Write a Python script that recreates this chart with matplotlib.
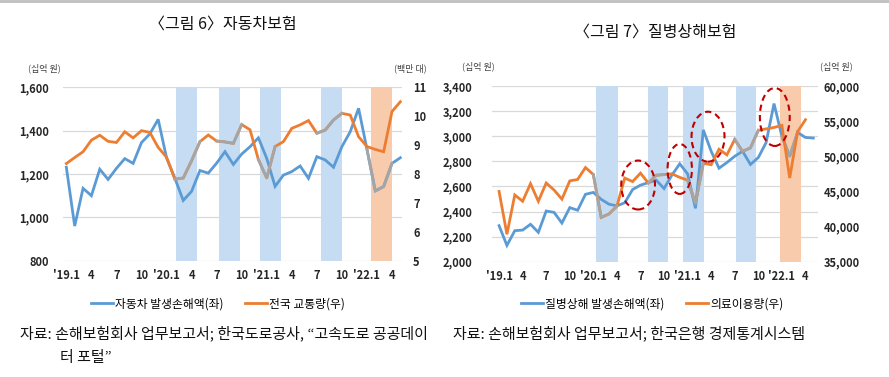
import numpy as np
import matplotlib
matplotlib.use("Agg")
import matplotlib.pyplot as plt
from matplotlib.lines import Line2D
from matplotlib.patches import Ellipse

plt.rcParams['font.family'] = ['Noto Sans CJK KR', 'DejaVu Sans']

# months '19.1 ~ '22.5
tick_pos = list(range(0, 40, 3))
tick_labels = ["'19.1", "4", "7", "10", "'20.1", "4", "7", "10",
               "'21.1", "4", "7", "10", "'22.1", "4"]

# 그림 6: 자동차보험
car_loss = [1231, 960, 1134, 1100, 1222, 1175, 1226, 1271, 1249, 1345, 1385, 1452,
            1275, 1180, 1078, 1120, 1216, 1204, 1250, 1303, 1244, 1292, 1326, 1367,
            1272, 1143, 1195, 1211, 1237, 1180, 1280, 1265, 1231, 1326, 1395, 1503,
            1315, 1122, 1142, 1249, 1275]
traffic = [8.36, 8.57, 8.77, 9.17, 9.34, 9.13, 9.09, 9.46, 9.25, 9.50, 9.44, 8.92,
           8.58, 7.82, 7.86, 8.46, 9.12, 9.35, 9.14, 9.11, 9.06, 9.71, 9.53, 8.50,
           7.86, 8.95, 9.12, 9.58, 9.70, 9.85, 9.41, 9.52, 9.87, 10.10, 10.04, 9.29,
           8.95, 8.85, 8.77, 10.16, 10.50]
car_blue_bands = [(13.1, 15.7), (18.3, 20.8), (23.2, 25.7), (30.5, 33.0)]
car_orange_band = (36.5, 39.0)
car_gray_orange = [(13, 16), (18, 21), (23, 25), (30, 33)]
car_gray_blue = [(36, 39)]

# 그림 7: 질병상해보험
ill_loss = [2287, 2130, 2247, 2252, 2298, 2234, 2404, 2393, 2308, 2431, 2410, 2537,
            2552, 2497, 2458, 2445, 2470, 2575, 2610, 2630, 2650, 2583, 2690, 2780,
            2700, 2425, 3050, 2880, 2745, 2790, 2840, 2880, 2775, 2830, 2950, 3260,
            3000, 2840, 3030, 2990, 2985]
medical = [45000, 38900, 44500, 43600, 46100, 43600, 46200, 45200, 43900, 46500,
           46700, 48400, 47400, 41300, 41800, 42900, 46900, 46400, 47600, 46200,
           47300, 47400, 47500, 47000, 46600, 43300, 49000, 48800, 51000, 50200,
           52400, 50700, 51200, 53700, 53900, 54100, 54400, 46900, 53500, 55200]
ill_blue_bands = [(12.4, 15.1), (18.9, 21.5), (23.4, 26.1), (30.1, 32.7)]
ill_orange_band = (35.75, 38.4)
ill_gray_orange = [(12, 15), (19, 21), (24, 26), (30, 33)]
ill_gray_blue = [(36, 38)]
# (month, value, width, height) of the dashed circles
circles = [(17.7, 2611, 4.3, 390), (23.0, 2739, 3.1, 398),
           (26.6, 2996, 4.2, 398), (35.1, 3153, 3.8, 462)]

BLUE = '#5B9BD5'
ORANGE = '#ED7D31'
GRAY = '#A5A5A5'
BAND_B = '#C5DCF2'
BAND_O = '#F8CBAD'
TXT = '#262626'


def setup(ax, axr, yl, yr, ylt, yrt, xlim, lpad, rpad):
    ax.set_xlim(*xlim)
    ax.set_ylim(*yl)
    axr.set_ylim(*yr)
    ax.set_yticks(ylt)
    ax.set_yticklabels([f'{v:,}' for v in ylt])
    axr.set_yticks(yrt)
    axr.set_yticklabels([f'{v:,}' for v in yrt])
    ax.set_xticks(tick_pos)
    ax.set_xticklabels(tick_labels)
    ax.grid(axis='y', color='#D9D9D9', lw=0.9)
    ax.set_axisbelow(True)
    for a in (ax, axr):
        for s in a.spines.values():
            s.set_visible(False)
        for lab in a.get_xticklabels() + a.get_yticklabels():
            lab.set_fontweight('bold')
            lab.set_color(TXT)
    ax.tick_params(axis='y', length=0, pad=lpad, labelsize=8)
    ax.tick_params(axis='x', length=0, pad=6, labelsize=8)
    axr.tick_params(axis='y', length=0, pad=rpad, labelsize=8)


def draw(ax, axr, left, right, bands, oband, g_or, g_bl):
    for a, b in bands:
        ax.axvspan(a, b, color=BAND_B, lw=0, zorder=1)
    ax.axvspan(*oband, color=BAND_O, lw=0, zorder=1)
    xl = np.arange(len(left))
    xr = np.arange(len(right))
    lb, = ax.plot(xl, left, color=BLUE, lw=2, zorder=3, solid_joinstyle='miter')
    lo, = axr.plot(xr, right, color=ORANGE, lw=2, zorder=3, solid_joinstyle='miter')
    for a, b in g_or:
        axr.plot(xr[a:b + 1], right[a:b + 1], color=GRAY, lw=2, zorder=4)
    for a, b in g_bl:
        ax.plot(xl[a:b + 1], left[a:b + 1], color=GRAY, lw=2, zorder=4)
    return lb, lo


fig = plt.figure(figsize=(8.89, 3.77), dpi=100)
W, H = 889, 377

ax1 = fig.add_axes([63 / W, 1 - 260.7 / H, (402 - 63) / W, (260.7 - 87.3) / H])
ax1r = ax1.twinx()
lb1, lo1 = draw(ax1, ax1r, car_loss, traffic, car_blue_bands, car_orange_band,
                car_gray_orange, car_gray_blue)
setup(ax1, ax1r, (800, 1600), (5, 11), list(range(800, 1601, 200)),
      list(range(5, 12)), (-0.4, 40.2), 10, 8)

ax2 = fig.add_axes([492 / W, 1 - 261.7 / H, (818 - 492) / W, (261.7 - 86) / H])
ax2r = ax2.twinx()
lb2, lo2 = draw(ax2, ax2r, ill_loss, medical, ill_blue_bands, ill_orange_band,
                ill_gray_orange, ill_gray_blue)
setup(ax2, ax2r, (2000, 3400), (35000, 60000), list(range(2000, 3401, 200)),
      list(range(35000, 60001, 5000)), (-0.9, 40.6), 14, 4)
for cx, cy, w, h in circles:
    ax2r.add_patch(Ellipse((cx, cy), w, h, transform=ax2.transData, fill=False,
                           ec='#C00000', ls=(0, (3, 2)), lw=1.5, zorder=6))

# unit labels
fig.text(28 / W, 1 - 68 / H, '(십억 원)', fontsize=6.5, color='#404040', va='center')
fig.text(427 / W, 1 - 68 / H, '(백만 대)', fontsize=6.5, color='#404040', va='center', ha='right')
fig.text(462 / W, 1 - 66 / H, '(십억 원)', fontsize=6.5, color='#404040', va='center')
fig.text(853 / W, 1 - 66 / H, '(십억 원)', fontsize=6.5, color='#404040', va='center', ha='right')

# titles
fig.text(223 / W, 1 - 24 / H, '〈그림 6〉자동차보험', fontsize=11.5, ha='center', va='center', color='#111111')
fig.text(655 / W, 1 - 32 / H, '〈그림 7〉질병상해보험', fontsize=11.5, ha='center', va='center', color='#111111')

# legends
leg_kw = dict(loc='center', bbox_transform=fig.transFigure, ncol=2, frameon=False,
              fontsize=8.5, handlelength=1.9, handletextpad=0.15, columnspacing=1.8)
ax1.legend([lb1, lo1], ['자동차 발생손해액(좌)', '전국 교통량(우)'],
           bbox_to_anchor=(218 / W, 1 - 304 / H), **leg_kw)
ax2.legend([lb2, lo2], ['질병상해 발생손해액(좌)', '의료이용량(우)'],
           bbox_to_anchor=(652 / W, 1 - 304 / H), **leg_kw)

# sources
fig.text(20 / W, 1 - 333 / H, '자료: 손해보험회사 업무보고서; 한국도로공사, “고속도로 공공데이',
         fontsize=10.8, va='center', color='#111111')
fig.text(60 / W, 1 - 358 / H, '터 포털”', fontsize=10.8, va='center', color='#111111')
fig.text(453 / W, 1 - 333 / H, '자료: 손해보험회사 업무보고서; 한국은행 경제통계시스템',
         fontsize=10.8, va='center', color='#111111')

fig.add_artist(Line2D([0, 1], [0.998, 0.998], transform=fig.transFigure,
                      color='#BFBFBF', lw=2))

fig.savefig('out.png', dpi=100)
